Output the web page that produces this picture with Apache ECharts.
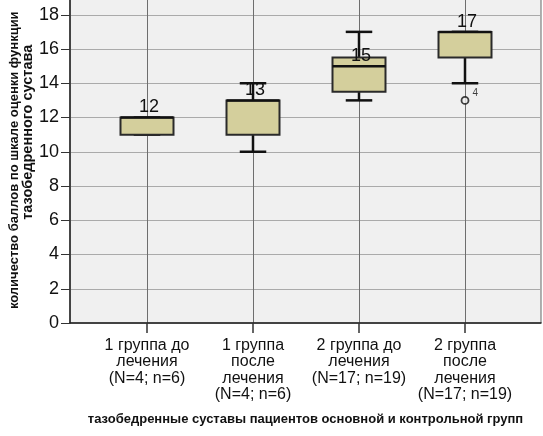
<!DOCTYPE html>
<html>
<head>
<meta charset="utf-8">
<script src="https://cdn.jsdelivr.net/npm/echarts@6/dist/echarts.min.js"></script>
<style>
html, body { margin: 0; padding: 0; background: #fff; }
#main { width: 543px; height: 436px; }
</style>
</head>
<body>
<div id="main"></div>
<script>
var categories = [
    '1 группа до\nлечения\n(N=4; n=6)',
    '1 группа\nпосле\nлечения\n(N=4; n=6)',
    '2 группа до\nлечения\n(N=17; n=19)',
    '2 группа\nпосле\nлечения\n(N=17; n=19)'
];
// нижний ус, Q1, медиана, Q3, верхний ус
var whiskerLow = [11, 10, 13, 14];
var q1 = [11, 11, 13.5, 15.5];
var median = [12, 13, 15, 17];
var q3 = [12, 13, 15.5, 17];
var whiskerHigh = [12, 14, 17, 17];
// выбросы: [индекс группы, значение] и номер наблюдения
var outliers = [[3, 13]];
var outlierCase = ['4'];

var yTitle1 = 'количество баллов по шкале оценки функции';
var yTitle2 = 'тазобедренного сустава';
var xTitle = 'тазобедренные суставы пациентов основной и контрольной групп';

var font = 'Liberation Sans, Arial, sans-serif';

var boxData = categories.map(function (c, i) {
    return [i, whiskerLow[i], q1[i], median[i], q3[i], whiskerHigh[i]];
});

var myChart = echarts.init(document.getElementById('main'));

function renderBox(params, api) {
    var x = api.value(0);
    var pLow = api.coord([x, api.value(1)]);
    var pQ1 = api.coord([x, api.value(2)]);
    var pMed = api.coord([x, api.value(3)]);
    var pQ3 = api.coord([x, api.value(4)]);
    var pHigh = api.coord([x, api.value(5)]);
    var band = api.size([1, 0])[0];
    var bw = band * 0.5, cw = band * 0.25;
    var cx = pMed[0];
    var wStyle = { stroke: '#111', lineWidth: 2.5 };
    return {
        type: 'group',
        children: [
            { type: 'line', shape: { x1: cx, y1: pHigh[1], x2: cx, y2: pQ3[1] }, style: wStyle },
            { type: 'line', shape: { x1: cx, y1: pQ1[1], x2: cx, y2: pLow[1] }, style: wStyle },
            { type: 'line', shape: { x1: cx - cw / 2, y1: pHigh[1], x2: cx + cw / 2, y2: pHigh[1] }, style: wStyle },
            { type: 'line', shape: { x1: cx - cw / 2, y1: pLow[1], x2: cx + cw / 2, y2: pLow[1] }, style: wStyle },
            {
                type: 'rect',
                shape: { x: cx - bw / 2, y: pQ3[1], width: bw, height: Math.max(pQ1[1] - pQ3[1], 0.5) },
                style: { fill: '#d4cf9c', stroke: '#2a2a2a', lineWidth: 2 }
            },
            { type: 'line', shape: { x1: cx - bw / 2, y1: pMed[1], x2: cx + bw / 2, y2: pMed[1] }, style: { stroke: '#111', lineWidth: 2.5 } },
            {
                type: 'text',
                style: {
                    text: String(api.value(3)), x: cx + 2, y: pMed[1] - 1,
                    align: 'center', verticalAlign: 'bottom',
                    font: '18px ' + font, fill: '#111'
                }
            }
        ]
    };
}

var option = {
    animation: false,
    backgroundColor: '#fff',
    grid: [
        { left: 70, right: 2, top: -19.5, bottom: 113, outerBoundsMode: 'none', containLabel: false, show: true, backgroundColor: '#f0f0f0', borderColor: '#666', borderWidth: 1 },
        { left: 147, right: 78, top: -19.5, bottom: 113, outerBoundsMode: 'none', containLabel: false }
    ],
    xAxis: [{
        gridIndex: 0, type: 'value', min: 0, max: 1,
        axisLine: { show: true, onZero: false, lineStyle: { color: '#222', width: 1.5 } },
        axisTick: { show: false }, axisLabel: { show: false }, splitLine: { show: false },
        name: xTitle, nameLocation: 'middle', nameGap: 90, nameMoveOverlap: false,
        nameTextStyle: { fontFamily: font, fontWeight: 'bold', fontSize: 13, color: '#111' }
    }, {
        gridIndex: 1, type: 'category', data: categories, boundaryGap: false,
        axisLine: { show: false },
        axisTick: { show: true, length: 10, lineStyle: { color: '#333', width: 1.5 } },
        axisLabel: { interval: 0, fontFamily: font, fontSize: 16, lineHeight: 16.5, color: '#111', margin: 14 },
        splitLine: { show: true, interval: 0, lineStyle: { color: '#6e6e6e', width: 1 } }
    }],
    yAxis: [{
        gridIndex: 0, type: 'value', min: 0, max: 20, interval: 2,
        axisLine: { show: true, lineStyle: { color: '#222', width: 1.5 } },
        axisTick: { show: true, length: 9, lineStyle: { color: '#333' } },
        axisLabel: { fontFamily: font, fontSize: 18, color: '#111', margin: 11 },
        splitLine: { show: true, lineStyle: { color: '#aaaaaa', width: 1 } },
        name: '{a|' + yTitle1 + '}\n{b|' + yTitle2 + '}',
        nameLocation: 'middle', nameGap: 35, nameRotate: 90, nameMoveOverlap: false,
        nameTextStyle: {
            fontFamily: font, fontWeight: 'bold', fontSize: 13, color: '#111', lineHeight: 13,
            padding: [0, 17, 0, 0],
            rich: {
                a: { fontFamily: font, fontWeight: 'bold', fontSize: 13, color: '#111', lineHeight: 13 },
                b: { fontFamily: font, fontWeight: 'bold', fontSize: 14.5, color: '#111', lineHeight: 14, padding: [0, 0, 0, 56] }
            }
        }
    }, {
        gridIndex: 1, type: 'value', min: 0, max: 20, show: false
    }],
    series: [{
        type: 'custom',
        xAxisIndex: 1, yAxisIndex: 1,
        renderItem: renderBox,
        encode: { x: 0, y: [1, 2, 3, 4, 5] },
        data: boxData,
        z: 3
    }, {
        type: 'scatter',
        xAxisIndex: 1, yAxisIndex: 1,
        data: outliers,
        symbol: 'circle', symbolSize: 7,
        itemStyle: { color: '#f0f0f0', borderColor: '#111', borderWidth: 1.8 },
        label: {
            show: true, position: 'right', offset: [-2, -7],
            formatter: function (p) { return outlierCase[p.dataIndex]; },
            fontFamily: font, fontSize: 10, color: '#111'
        },
        z: 4
    }]
};

myChart.setOption(option);
</script>
</body>
</html>
